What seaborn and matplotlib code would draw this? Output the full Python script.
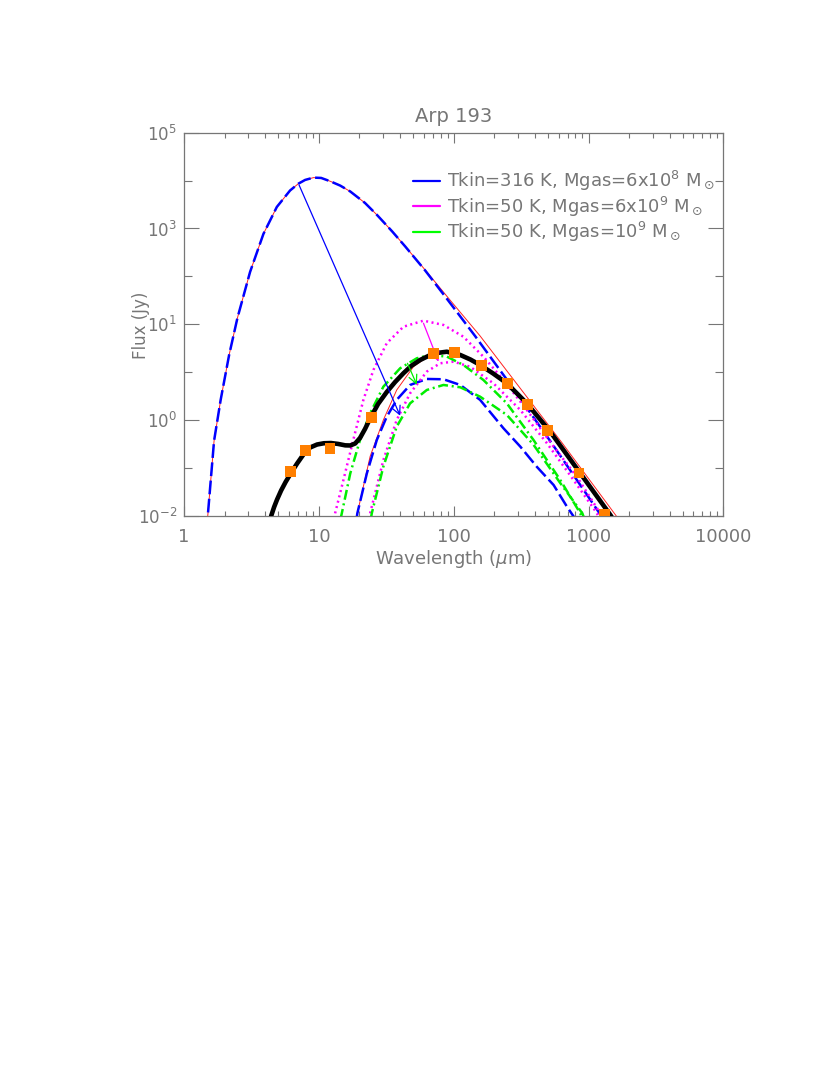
import numpy as np
import pandas as pd
import seaborn as sns
import matplotlib.pyplot as plt
from matplotlib.lines import Line2D
from matplotlib.ticker import FixedLocator, NullFormatter

# observed photometry (um, Jy)
obs_wl = [6.2, 8.0, 12.1, 24.4, 70.5, 101, 160, 250, 350, 500, 850, 1320]
obs_flux = [0.064, 0.155, 0.174, 0.62, 9.1, 9.5, 5.7, 2.6, 1.1, 0.37, 0.061, 0.0105]

# total model (thick black)
tot_wl = [4.31, 4.44, 4.66, 4.90, 5.25, 5.67, 6.22, 6.90, 7.74, 8.61, 9.70, 10.9, 12.3, 13.9, 15.7,
          17.1, 18.6, 20.2, 22.0, 24.0, 27.5, 31.9, 36.8, 42.4, 48.4, 56.4, 70.8, 89.0, 112, 133,
          157, 196, 248, 349, 520, 869, 1450, 1527]
tot_flux = [0.00714, 0.0102, 0.0146, 0.0200, 0.0292, 0.0418, 0.0611, 0.0910, 0.136, 0.178, 0.202,
            0.213, 0.215, 0.207, 0.195, 0.194, 0.211, 0.266, 0.388, 0.604, 1.11, 1.84, 2.80, 4.04,
            5.50, 7.06, 9.29, 10.0, 8.71, 7.21, 5.73, 4.01, 2.65, 1.14, 0.347, 0.0603, 0.0105, 0.0086]

# Tkin=316 K model, full curve (blue dashed)
hot_wl = [1.47, 1.50, 1.67, 1.87, 2.16, 2.49, 3.09, 3.88, 4.88, 6.12, 7.05, 7.91, 9.12, 10.4, 12.1,
          14.4, 17.1, 22.0, 27.0, 35.0, 43.7, 61.4, 89.3, 144, 249, 349, 520, 733, 973, 1259, 1331]
hot_flux = [0.0054, 0.010, 0.234, 1.32, 8.7, 41.3, 286, 1413, 4400, 8800, 1.17e4, 1.37e4, 1.51e4,
            1.49e4, 1.30e4, 1.08e4, 8430, 5200, 3140, 1570, 836, 305, 91.8, 19.4, 3.05, 0.94, 0.234,
            0.068, 0.0245, 0.0096, 0.0078]

# thin red curves (warm and cold dust)
warm_wl = [1.47, 1.50, 1.67, 1.87, 2.16, 2.49, 3.09, 3.88, 4.88, 6.12, 7.05, 7.91, 9.12, 10.4, 12.1,
           14.4, 17.1, 22.0, 27.0, 35.0, 43.7, 61.4, 94.2, 157, 638, 1607, 1722]
warm_flux = [0.0054, 0.010, 0.234, 1.32, 8.7, 41.3, 286, 1413, 4400, 8800, 1.17e4, 1.37e4, 1.51e4,
             1.49e4, 1.30e4, 1.08e4, 8430, 5200, 3140, 1570, 836, 312, 87.1, 19.4, 0.215,
             0.010, 0.0079]
cold_wl = [19.05, 19.3, 24.0, 30.1, 37.8, 50.3, 67.0, 89.1, 112, 157, 248, 349, 520, 869, 1480, 1560]
cold_flux = [0.0087, 0.0112, 0.122, 0.567, 2.0, 5.33, 8.73, 9.8, 8.6, 5.7, 2.62, 1.13, 0.345, 0.060,
             0.0100, 0.0080]

# Tkin=316 K, 6x10^8 Msun (blue dashed, gas part)
blue_wl = [19.05, 19.3, 22.7, 26.9, 31.9, 37.8, 47.5, 63.2, 84.0, 112, 157, 234, 312, 414, 551, 692, 771, 794]
blue_flux = [0.0089, 0.0112, 0.060, 0.244, 0.652, 1.32, 2.47, 3.18, 3.14, 2.47, 1.32, 0.40, 0.185,
             0.079, 0.0368, 0.0148, 0.010, 0.0087]

# Tkin=50 K, 6x10^9 Msun (magenta dotted)
mag1_wl = [13.0, 13.2, 15.2, 18.0, 21.4, 25.4, 31.9, 42.4, 59.7, 84.0, 118, 166, 234, 349, 551, 821, 1222, 1259]
mag1_flux = [0.0089, 0.0112, 0.045, 0.244, 1.32, 4.65, 14.3, 28.6, 36.9, 30.8, 18.8, 8.13, 3.05, 0.863,
             0.185, 0.052, 0.0112, 0.0089]
mag2_wl = [23.7, 24.0, 30.1, 37.8, 47.5, 63.2, 79.4, 99.7, 132, 197, 312, 492, 774, 1156, 1189]
mag2_flux = [0.0089, 0.0112, 0.105, 0.567, 1.74, 4.33, 6.15, 6.58, 5.33, 2.65, 0.863, 0.213, 0.0455,
             0.0112, 0.0089]

# Tkin=50 K, 10^9 Msun (green dash-dot)
grn1_wl = [14.5, 14.8, 17.1, 20.2, 24.0, 30.1, 40.1, 53.3, 67.0, 89.1, 118, 166, 248, 391, 617, 869, 891]
grn1_flux = [0.0089, 0.0112, 0.060, 0.244, 0.75, 2.30, 4.99, 7.59, 8.73, 8.13, 5.73, 3.05, 1.14, 0.244,
             0.0455, 0.0112, 0.0093]
grn2_wl = [24.3, 24.7, 30.1, 37.8, 47.5, 63.2, 84.0, 112, 157, 248, 391, 617, 900, 925]
grn2_flux = [0.0089, 0.0112, 0.080, 0.428, 1.14, 2.0, 2.47, 2.24, 1.51, 0.70, 0.20, 0.040, 0.0112, 0.0093]

# arrows (start -> end)
arrow_from = [(7.13, 1.11e4), (59.7, 33.1), (45.4, 6.15)]
arrow_to = [(40.1, 0.676), (77.1, 6.58), (53.3, 2.49)]
arrow_colors = ['#0000ff', '#ff00ff', '#00ee00']

legend_labels = ['Tkin=316 K, Mgas=6x10$^8$ M$_\\odot$',
                 'Tkin=50 K, Mgas=6x10$^9$ M$_\\odot$',
                 'Tkin=50 K, Mgas=10$^9$ M$_\\odot$']
legend_colors = ['#0000ff', '#ff00ff', '#00ff00']

ytick_exp = [5, 3.25, 1.5, -0.25, -2]
ytick_labels = ['$10^{5}$', '$10^{3}$', '$10^{1}$', '$10^{0}$', '$10^{-2}$']
yminor_exp = [4.125, 2.375, 0.625, -1.125]
xtick_vals = [1, 10, 100, 1000, 10000]

sns.set_style('ticks')
plt.rcParams['font.family'] = ['DejaVu Sans']
plt.rcParams['mathtext.fontset'] = 'dejavusans'
gray = '#767676'

fig = plt.figure(figsize=(8.3, 10.75), dpi=100)
ax = fig.add_axes([0.2217, 0.52, 0.6498, 0.3566])
ax.set_xscale('log')
ax.set_yscale('log')


def line(wl, fl, **kw):
    df = pd.DataFrame({'wl': wl, 'flux': fl})
    sns.lineplot(data=df, x='wl', y='flux', ax=ax, sort=False, estimator=None, **kw)


line(warm_wl, warm_flux, color='#ff2020', lw=0.7, zorder=2)
line(cold_wl, cold_flux, color='#ff2020', lw=0.7, zorder=2)
line(hot_wl, hot_flux, color='#0000ff', lw=1.8, linestyle=(0, (5.5, 1.8)), zorder=3)
line(blue_wl, blue_flux, color='#0000ff', lw=1.8, linestyle=(0, (5.5, 1.8)), zorder=3)
line(mag1_wl, mag1_flux, color='#ff00ff', lw=1.8, linestyle=(0, (0.8, 1.4)), zorder=3)
line(mag2_wl, mag2_flux, color='#ff00ff', lw=1.8, linestyle=(0, (0.8, 1.4)), zorder=3)
line(grn1_wl, grn1_flux, color='#00ee00', lw=1.8, linestyle=(0, (4, 1.5, 0.8, 1.5)), zorder=3)
line(grn2_wl, grn2_flux, color='#00ee00', lw=1.8, linestyle=(0, (4, 1.5, 0.8, 1.5)), zorder=3)
line(tot_wl, tot_flux, color='black', lw=3.3, zorder=4)

sns.scatterplot(x=obs_wl, y=obs_flux, ax=ax, marker='s', s=62, color='#ff7f00',
                edgecolor='none', zorder=6)

for (x0, y0), (x1, y1), c in zip(arrow_from, arrow_to, arrow_colors):
    ax.annotate('', xy=(x1, y1), xytext=(x0, y0),
                arrowprops=dict(arrowstyle='->,head_length=0.6,head_width=0.3',
                                color=c, lw=0.9, shrinkA=0, shrinkB=0), zorder=5)

ax.set_xlim(1, 10000)
ax.set_ylim(1e-2, 1e5)
ax.xaxis.set_major_locator(FixedLocator(xtick_vals))
ax.set_xticklabels([str(v) for v in xtick_vals])
ax.xaxis.set_minor_locator(FixedLocator([m * 10 ** d for d in range(4) for m in range(2, 10)]))
ax.xaxis.set_minor_formatter(NullFormatter())
ax.yaxis.set_major_locator(FixedLocator([10 ** e for e in ytick_exp]))
ax.set_yticklabels(ytick_labels)
ax.yaxis.set_minor_locator(FixedLocator([10 ** e for e in yminor_exp]))
ax.yaxis.set_minor_formatter(NullFormatter())

ax.tick_params(axis='both', which='both', direction='in', top=True, right=True,
               color=gray, labelcolor=gray, width=0.8)
ax.tick_params(axis='x', which='major', length=7.5, pad=9, labelsize=13)
ax.tick_params(axis='x', which='minor', length=3.5)
ax.tick_params(axis='y', which='major', length=11, pad=5, labelsize=12)
ax.tick_params(axis='y', which='minor', length=5.5)
for s in ax.spines.values():
    s.set_color(gray)
    s.set_linewidth(0.9)

ax.set_title('Arp 193', color=gray, fontsize=14, pad=8)
ax.set_xlabel('Wavelength ($\\mu$m)', color=gray, fontsize=13)
ax.set_ylabel('Flux (Jy)', color=gray, fontsize=12)
ax.xaxis.set_label_coords(0.5, -0.112)
ax.xaxis.label.set_verticalalignment('center')
ax.yaxis.set_label_coords(-0.08, 0.498)
ax.yaxis.label.set_verticalalignment('center')

handles = [Line2D([0], [0], color=c, lw=1.6) for c in legend_colors]
leg = ax.legend(handles, legend_labels, loc='upper left', bbox_to_anchor=(0.425, 0.905),
                frameon=False, fontsize=13, handlelength=1.5, handletextpad=0.35,
                labelspacing=0.08, borderpad=0, borderaxespad=0)
for t in leg.get_texts():
    t.set_color(gray)

fig.savefig('out.png', dpi=100)
